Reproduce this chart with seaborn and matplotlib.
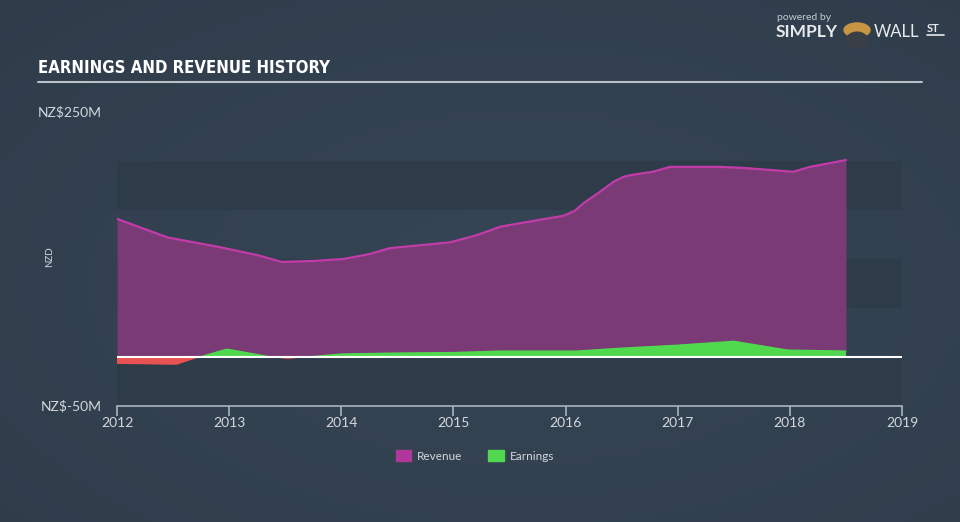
import matplotlib
matplotlib.use("Agg")
import matplotlib.pyplot as plt
import matplotlib.patches as mpatches
import seaborn as sns
import pandas as pd
import numpy as np

# ---- data ----
rev_years = [2012.0, 2012.45, 2012.92, 2013.25, 2013.47, 2013.75, 2014.02, 2014.25, 2014.43,
             2014.7, 2014.97, 2015.2, 2015.42, 2015.77, 2015.98, 2016.08, 2016.16, 2016.3,
             2016.43, 2016.52, 2016.6, 2016.78, 2016.93, 2017.38, 2017.58, 2018.03, 2018.18,
             2018.5]
rev_values = [141, 122, 112, 104, 97, 98, 100, 105, 111,
              114, 117, 124, 133, 140, 144, 149, 157, 168,
              179, 184, 186, 189, 194, 194, 193, 189, 194,
              201]

earn_years = [2012.0, 2012.53, 2012.74, 2012.98, 2013.37, 2013.52, 2013.7, 2014.0,
              2014.5, 2015.0, 2015.42, 2016.1, 2016.5, 2017.0, 2017.5, 2017.98, 2018.5]
earn_values = [-7, -8, 0, 8, 0, -2, 0, 3,
               4, 4.5, 6, 6, 9, 12, 16, 7, 6]

x_ticks = [2012, 2013, 2014, 2015, 2016, 2017, 2018, 2019]
y_tick_values = [-50, 250]
y_tick_labels = ["NZ$-50M", "NZ$250M"]
bands = [(-50, 0), (50, 100), (150, 200)]

rev_df = pd.DataFrame({"year": rev_years, "value": rev_values})
earn_df = pd.DataFrame({"year": earn_years, "value": earn_values})

# ---- style ----
BG = "#323f4e"
BAND = "#2e3b49"
REV_FILL = "#7a3a75"
REV_LINE = "#c23ca9"
GREEN = "#50d94f"
RED = "#e85252"
TXT = "#d2d7dc"

sns.set_theme(style="dark")
plt.rcParams["font.family"] = ["Lato", "DejaVu Sans"]

fig = plt.figure(figsize=(9.6, 5.22), dpi=100)
fig.patch.set_facecolor(BG)

# subtle background gradient
bgax = fig.add_axes([0, 0, 1, 1], zorder=-10)
yy, xx = np.mgrid[0:1:200j, 0:1:200j]
r = np.sqrt(((xx - 0.55) / 0.8) ** 2 + ((yy - 0.55) / 0.8) ** 2)
c0 = np.array([0x36, 0x46, 0x56]) / 255
c1 = np.array([0x2f, 0x3c, 0x4a]) / 255
rc = np.clip(r, 0, 1)[..., None]
img = c0[None, None, :] * (1 - rc) + c1[None, None, :] * rc
bgax.imshow(img, extent=[0, 1, 0, 1], aspect="auto")
bgax.axis("off")

L, R = 117 / 960, 902 / 960
B, T = 1 - 406 / 522, 1 - 112 / 522
ax = fig.add_axes([L, B, R - L, T - B])
ax.set_facecolor("none")

for lo, hi in bands:
    ax.axhspan(lo, hi, color=BAND, zorder=0, lw=0)

# revenue
ax.fill_between(rev_df["year"], 0, rev_df["value"], color=REV_FILL, lw=0, zorder=2)
sns.lineplot(data=rev_df, x="year", y="value", ax=ax, color=REV_LINE, lw=1.6, zorder=3)

# earnings
ev = np.array(earn_values, dtype=float)
ey = np.array(earn_years)
ax.fill_between(ey, 0, ev, where=ev >= 0, interpolate=True, color=GREEN, lw=0, zorder=4)
ax.fill_between(ey, 0, ev, where=ev <= 0, interpolate=True, color=RED, lw=0, zorder=4)
sns.lineplot(x=ey, y=np.maximum(ev, 0), ax=ax, color=GREEN, lw=1.0, zorder=5)

ax.axhline(0, color="white", lw=1.5, zorder=6)

ax.set_xlim(2012, 2019)
ax.set_ylim(-50, 250)
ax.set_xticks(x_ticks)
ax.set_xticklabels([str(t) for t in x_ticks])
ax.set_yticks(y_tick_values)
ax.set_yticklabels(y_tick_labels)
ax.set_xlabel("")
ax.set_ylabel("")
ax.grid(False)
for s in ["top", "right", "left"]:
    ax.spines[s].set_visible(False)
ax.spines["bottom"].set_color("#aab4be")
ax.spines["bottom"].set_linewidth(1.2)
ax.tick_params(axis="x", colors="#aab4be", labelcolor=TXT, labelsize=10,
               length=7, width=1.2, direction="out", pad=1, bottom=True)
ax.tick_params(axis="y", length=0, labelcolor=TXT, labelsize=10, pad=11)
for lbl in ax.get_yticklabels():
    lbl.set_va("center")

fig.text(50 / 960, 1 - 257 / 522, "NZD", rotation=90, color=TXT, fontsize=7,
         ha="center", va="center")

# title
fig.text(38 / 960, 1 - 68 / 522, "EARNINGS AND REVENUE HISTORY", color="white",
         fontsize=12, fontweight="bold", fontstretch="condensed", ha="left", va="center",
         family=["DejaVu Sans"])
fig.add_artist(plt.Line2D([38 / 960, 922 / 960], [1 - 82 / 522, 1 - 82 / 522],
                          color="#b9c0c7", lw=1.5))

# legend
handles = [mpatches.Patch(color="#b0379a", label="Revenue"),
           mpatches.Patch(color=GREEN, label="Earnings")]
leg = fig.legend(handles=handles, loc="center", bbox_to_anchor=(475 / 960, 1 - 456 / 522),
                 ncol=2, frameon=False, fontsize=8.5, handlelength=1.3, handleheight=1.1,
                 columnspacing=2.2, handletextpad=0.5)
for t in leg.get_texts():
    t.set_color(TXT)

# logo
fig.text(777 / 960, 1 - 17 / 522, "powered by", color="#c5cbd1", fontsize=7.5,
         ha="left", va="center")
fig.text(776 / 960, 1 - 32 / 522, "SIMPLY", color="#e6e9ec", fontsize=12.5,
         fontweight="bold", ha="left", va="center")
fig.add_artist(mpatches.Circle((857 / 960, 1 - 30 / 522), 0.0135, transform=fig.transFigure,
                               color="#c89544", zorder=5))
fig.add_artist(mpatches.Ellipse((857 / 960, 1 - 40 / 522), 0.022, 0.03, transform=fig.transFigure,
                                color="#3a3f45", zorder=6))
fig.text(874 / 960, 1 - 32 / 522, "WALL", color="#e6e9ec", fontsize=12,
         ha="left", va="center")
fig.text(927 / 960, 1 - 29 / 522, "ST", color="#e6e9ec", fontsize=8,
         fontweight="bold", ha="left", va="center")
fig.add_artist(plt.Line2D([927 / 960, 944 / 960], [1 - 35 / 522, 1 - 35 / 522],
                          color="#e6e9ec", lw=1.2))

fig.savefig("out.png", dpi=100, facecolor=fig.get_facecolor())
